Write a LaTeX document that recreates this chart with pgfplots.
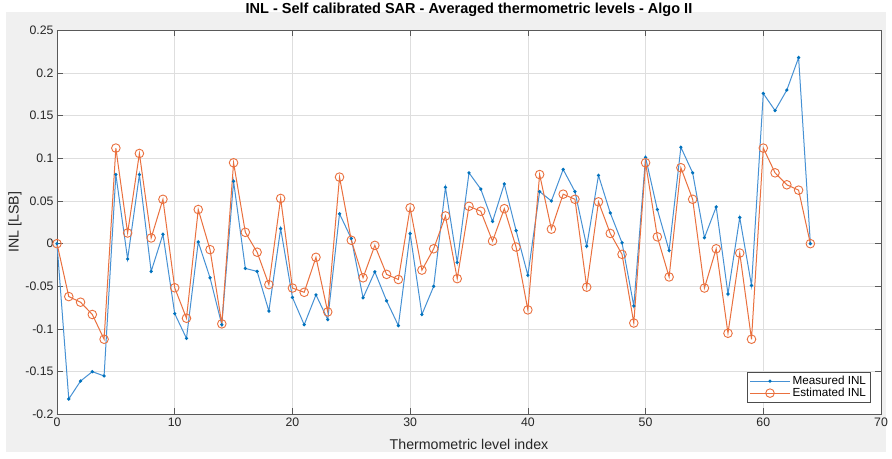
\documentclass[border=0pt]{standalone}
\usepackage{fontspec}
\setmainfont{Liberation Sans}
\usepackage{pgfplots}
\pgfplotsset{compat=1.18}
\definecolor{mblue}{RGB}{0,114,189}
\definecolor{lblue}{RGB}{70,145,212}
\definecolor{morange}{RGB}{217,83,25}
\definecolor{lorange}{RGB}{234,112,62}
\definecolor{figgray}{RGB}{240,240,240}
\definecolor{axgray}{RGB}{38,38,38}
\begin{document}
\begin{tikzpicture}
\fill[white] (-57pt,-44pt) rectangle (835pt,410pt);
\fill[figgray] (-51pt,-38pt) rectangle (829pt,402pt);
\begin{axis}[
  at={(0pt,0pt)}, anchor=south west,
  scale only axis, width=824pt, height=384pt,
  xmin=0, xmax=70, ymin=-0.2, ymax=0.25,
  xtick={0,10,20,30,40,50,60,70},
  ytick={-0.2,-0.15,-0.1,-0.05,0,0.05,0.1,0.15,0.2,0.25},
  yticklabels={-0.2,-0.15,-0.1,-0.05,0,0.05,0.1,0.15,0.2,0.25},
  /pgf/number format/assume math mode=true,
  axis background/.style={fill=white},
  axis line style={draw=black!65, line width=0.6pt},
  major tick length=6pt,
  every tick/.style={black!65, line width=0.6pt},
  grid=major,
  major grid style={draw=black!13, line width=0.5pt},
  tick label style={font=\fontsize{12.3}{14}\selectfont, text=axgray},
  title={INL - Self calibrated SAR - Averaged thermometric levels - Algo II},
  title style={font=\bfseries\fontsize{14.5}{16}\selectfont, at={(axis description cs:0.5,1.037)}, anchor=center, text=black},
  xlabel={Thermometric level index},
  ylabel={INL [LSB]},
  xlabel style={font=\fontsize{14.2}{16}\selectfont, text=axgray, at={(axis description cs:0.5,-0.078)}, anchor=center},
  ylabel style={font=\fontsize{14.2}{16}\selectfont, text=axgray, at={(axis description cs:-0.051,0.5)}, anchor=center},
  legend style={at={(axis description cs:0.987,0.031)}, anchor=south east, draw=black!70, line width=0.6pt, font=\fontsize{11.7}{13}\selectfont, fill=white, inner sep=2pt, row sep=-2pt},
  legend cell align=left,
  legend image code/.code={\draw[mark repeat=2,mark phase=2] plot coordinates {(0pt,0pt) (20pt,0pt) (40pt,0pt)};},
  clip=false,
]
\addplot[lblue, line width=1pt, mark=*, mark size=1.1pt, mark options={mblue}] coordinates {
(0,0) (1,-0.182) (2,-0.161) (3,-0.150) (4,-0.155) (5,0.081) (6,-0.018) (7,0.081) (8,-0.0325) (9,0.011)
(10,-0.082) (11,-0.111) (12,0.002) (13,-0.040) (14,-0.095) (15,0.073) (16,-0.029) (17,-0.0325) (18,-0.079) (19,0.0176)
(20,-0.063) (21,-0.095) (22,-0.060) (23,-0.089) (24,0.035) (25,0.006) (26,-0.0635) (27,-0.033) (28,-0.067) (29,-0.096)
(30,0.0118) (31,-0.083) (32,-0.050) (33,0.066) (34,-0.022) (35,0.083) (36,0.064) (37,0.026) (38,0.070) (39,0.0153)
(40,-0.037) (41,0.061) (42,0.050) (43,0.087) (44,0.061) (45,-0.003) (46,0.080) (47,0.036) (48,0.001) (49,-0.073)
(50,0.101) (51,0.040) (52,-0.008) (53,0.113) (54,0.083) (55,0.007) (56,0.043) (57,-0.059) (58,0.0306) (59,-0.049)
(60,0.176) (61,0.156) (62,0.180) (63,0.218) (64,0)
};
\addlegendentry{Measured INL}
\addplot[lorange, line width=1pt, mark=o, mark size=4.3pt, mark options={line width=0.9pt}] coordinates {
(0,0) (1,-0.062) (2,-0.0686) (3,-0.083) (4,-0.112) (5,0.112) (6,0.0125) (7,0.1057) (8,0.0067) (9,0.052)
(10,-0.0517) (11,-0.0874) (12,0.040) (13,-0.007) (14,-0.094) (15,0.0948) (16,0.0133) (17,-0.010) (18,-0.048) (19,0.053)
(20,-0.052) (21,-0.057) (22,-0.016) (23,-0.080) (24,0.078) (25,0.004) (26,-0.040) (27,-0.002) (28,-0.036) (29,-0.042)
(30,0.042) (31,-0.031) (32,-0.006) (33,0.0325) (34,-0.041) (35,0.0438) (36,0.038) (37,0.003) (38,0.041) (39,-0.004)
(40,-0.0776) (41,0.081) (42,0.017) (43,0.058) (44,0.052) (45,-0.051) (46,0.049) (47,0.012) (48,-0.0125) (49,-0.093)
(50,0.0948) (51,0.008) (52,-0.039) (53,0.089) (54,0.052) (55,-0.052) (56,-0.006) (57,-0.105) (58,-0.011) (59,-0.112)
(60,0.112) (61,0.083) (62,0.069) (63,0.0627) (64,0)
};
\addlegendentry{Estimated INL}
\end{axis}
\end{tikzpicture}
\end{document}
